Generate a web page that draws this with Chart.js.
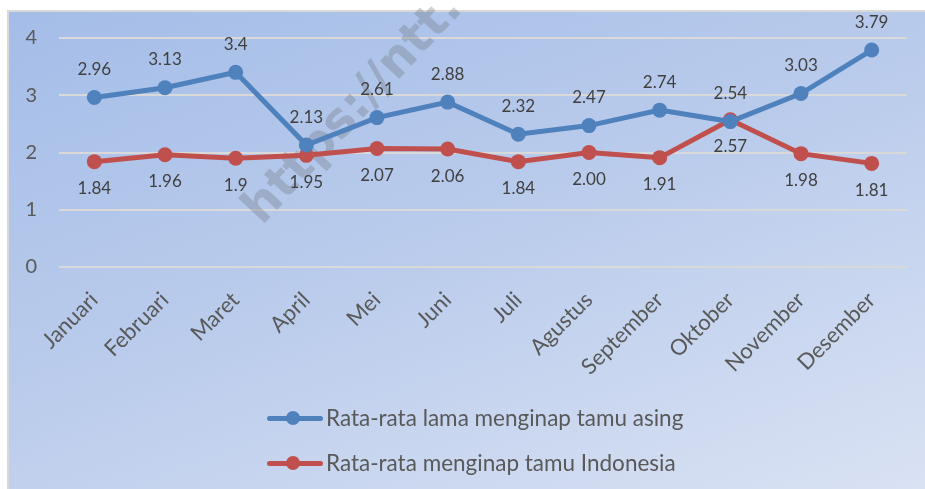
<!DOCTYPE html>
<html>
<head>
<meta charset="utf-8">
<script src="https://cdn.jsdelivr.net/npm/chart.js@4/dist/chart.umd.min.js"></script>
<style>
  html, body { margin: 0; padding: 0; background: #ffffff; }
  #box {
    position: absolute; left: 7px; top: 10px; width: 930px; height: 490px;
    border-left: 2px solid #d9d9d9; border-top: 2px solid #d9d9d9;
    background: linear-gradient(160deg, #a4bde8 0%, #bccdec 50%, #dbe3f4 100%);
    overflow: hidden;
  }
  #wrap { position: absolute; left: 0; top: 0; width: 925px; height: 489px; }
  .leg { position: absolute; left: 267px; font-family: Lato, sans-serif; font-size: 22.5px; color: #595959; height: 26px; line-height: 26px; white-space: nowrap; }
  .leg .ln { position: absolute; left: 0; top: 11px; width: 56px; height: 5px; border-radius: 3px; }
  .leg .dot { position: absolute; left: 19px; top: 6px; width: 14px; height: 14px; border-radius: 50%; }
  .leg .tx { position: absolute; left: 59px; top: 0; }
</style>
</head>
<body>
<div id="box"></div>
<div id="wrap"><canvas id="c" width="925" height="489"></canvas></div>
<div class="leg" style="top:405px"><span class="ln" style="background:#4f81bd"></span><span class="dot" style="background:#4f81bd"></span><span class="tx">Rata-rata lama menginap tamu asing</span></div>
<div class="leg" style="top:450px"><span class="ln" style="background:#c0504d"></span><span class="dot" style="background:#c0504d"></span><span class="tx">Rata-rata menginap tamu Indonesia</span></div>
<script>
const categories = ["Januari","Februari","Maret","April","Mei","Juni","Juli","Agustus","September","Oktober","November","Desember"];
const asingValues = [2.96, 3.13, 3.4, 2.13, 2.61, 2.88, 2.32, 2.47, 2.74, 2.54, 3.03, 3.79];
const asingLabels = ["2.96","3.13","3.4","2.13","2.61","2.88","2.32","2.47","2.74","2.54","3.03","3.79"];
const indoValues = [1.84, 1.96, 1.9, 1.95, 2.07, 2.06, 1.84, 2.00, 1.91, 2.57, 1.98, 1.81];
const indoLabels = ["1.84","1.96","1.9","1.95","2.07","2.06","1.84","2.00","1.91","2.57","1.98","1.81"];
const yTicks = [0, 1, 2, 3, 4];
const seriesNames = ["Rata-rata lama menginap tamu asing", "Rata-rata menginap tamu Indonesia"];

const watermark = {
  id: 'watermark',
  beforeDatasetsDraw(chart) {
    const ctx = chart.ctx;
    ctx.save();
    ctx.translate(262, 226);
    ctx.rotate(-47 * Math.PI / 180);
    ctx.font = 'bold 48px "DejaVu Sans", sans-serif';
    ctx.fillStyle = 'rgba(110,115,125,0.32)';
    ctx.textBaseline = 'alphabetic';
    ctx.fillText('https://ntt.', 0, 0);
    ctx.restore();
  }
};

const dataLabels = {
  id: 'dataLabels',
  afterDatasetsDraw(chart) {
    const ctx = chart.ctx;
    ctx.save();
    ctx.font = '17px Lato, sans-serif';
    ctx.fillStyle = '#404040';
    ctx.textAlign = 'center';
    ctx.textBaseline = 'middle';
    chart.data.datasets.forEach((ds, di) => {
      const meta = chart.getDatasetMeta(di);
      meta.data.forEach((pt, i) => {
        ctx.fillText(ds.labels[i], pt.x, pt.y + ds.labelOffset);
      });
    });
    ctx.restore();
  }
};

new Chart(document.getElementById('c'), {
  type: 'line',
  data: {
    labels: categories,
    datasets: [
      { label: seriesNames[0], data: asingValues, labels: asingLabels, labelOffset: -28,
        borderColor: '#4f81bd', backgroundColor: '#4f81bd', borderWidth: 5,
        pointRadius: 7.5, pointHoverRadius: 7.5, pointBorderWidth: 0, tension: 0 },
      { label: seriesNames[1], data: indoValues, labels: indoLabels, labelOffset: 27,
        borderColor: '#c0504d', backgroundColor: '#c0504d', borderWidth: 5,
        pointRadius: 7.5, pointHoverRadius: 7.5, pointBorderWidth: 0, tension: 0 }
    ]
  },
  options: {
    responsive: false,
    animation: false,
    events: [],
    layout: { padding: { top: 38, right: 18, left: 0, bottom: 92 } },
    plugins: { legend: { display: false }, tooltip: { enabled: false } },
    scales: {
      y: {
        min: 0, max: 4,
        afterFit(s) { s.width = 59; },
        afterBuildTicks(s) { s.ticks = yTicks.map(v => ({ value: v })); },
        border: { display: false },
        grid: { color: '#d9d9d9', lineWidth: 2, drawTicks: false },
        ticks: { color: '#595959', font: { family: 'Lato', size: 20 }, padding: 22 }
      },
      x: {
        offset: true,
        afterFit(s) { s.height = 130; },
        border: { display: false },
        grid: { display: false },
        ticks: { color: '#595959', font: { family: 'Lato', size: 22 }, maxRotation: 45, minRotation: 45, padding: 12, autoSkip: false }
      }
    }
  },
  plugins: [watermark, dataLabels]
});
</script>
</body>
</html>
